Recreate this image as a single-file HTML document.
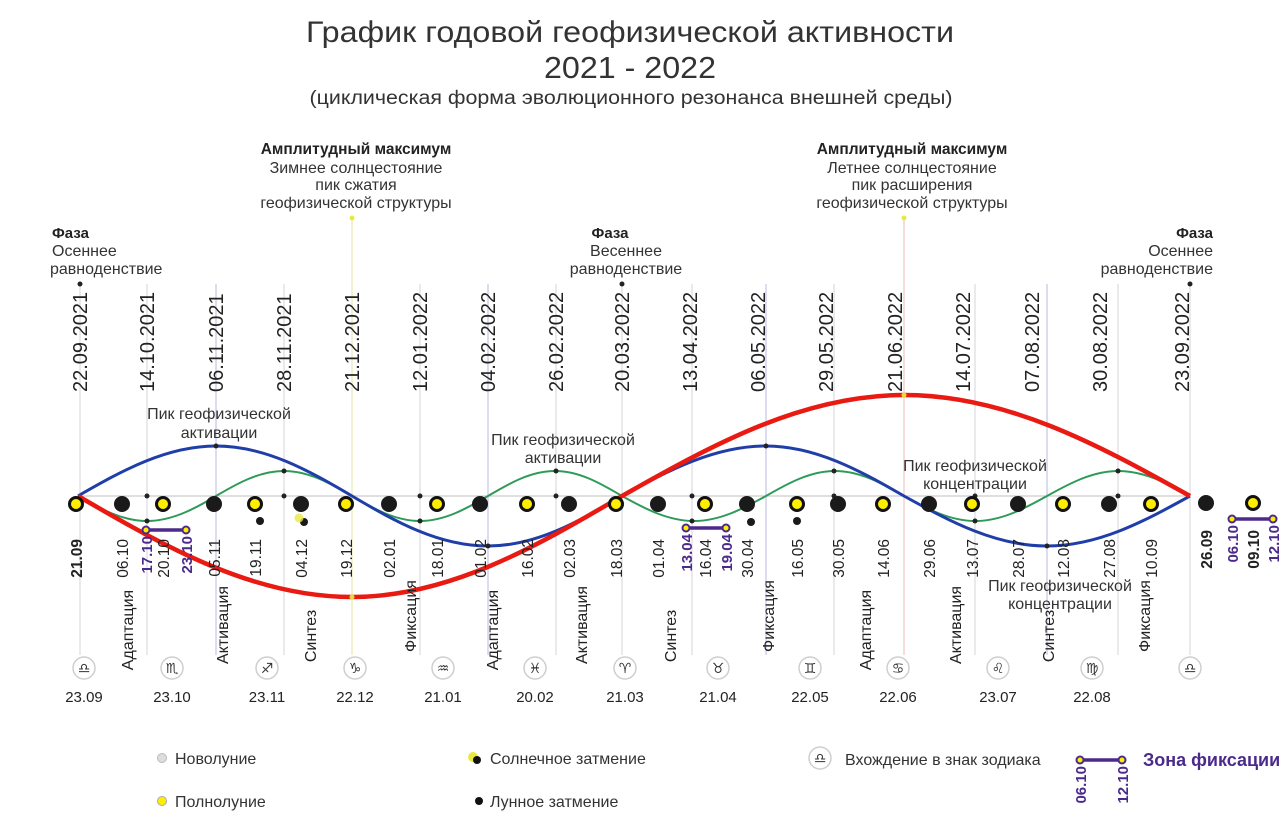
<!DOCTYPE html>
<html><head><meta charset="utf-8"><style>
body{margin:0;background:#fff;}
svg{display:block;font-family:"Liberation Sans",Arial,sans-serif;}
.t{fill:#333;}
.d{font-size:20px;fill:#222;}
.b{font-size:15.5px;fill:#222;}
.ph{font-size:16px;fill:#222;}
.z{font-size:15px;fill:#222;}
.pu{font-size:15px;fill:#4b2a8c;font-weight:bold;}
.an{font-size:16px;fill:#333;}
</style></head><body>
<svg width="1280" height="829" viewBox="0 0 1280 829" xmlns="http://www.w3.org/2000/svg">
<text x="630" y="42" text-anchor="middle" font-size="30" class="t" textLength="648" lengthAdjust="spacingAndGlyphs">График годовой геофизической активности</text>
<text x="630" y="78" text-anchor="middle" font-size="31" class="t" textLength="172" lengthAdjust="spacingAndGlyphs">2021 - 2022</text>
<text x="631" y="104" text-anchor="middle" font-size="19" class="t" textLength="643" lengthAdjust="spacingAndGlyphs">(циклическая форма эволюционного резонанса внешней среды)</text>

<g stroke="#d4d4dc" stroke-width="1">
<line x1="80" y1="284" x2="80" y2="655"/><line x1="147" y1="284" x2="147" y2="655"/>
<line x1="216" y1="284" x2="216" y2="655" stroke="#b8b8e0"/><line x1="284" y1="284" x2="284" y2="655"/>
<line x1="352" y1="218" x2="352" y2="655" stroke="#e6e6a0"/><line x1="420" y1="284" x2="420" y2="655"/>
<line x1="488" y1="284" x2="488" y2="655" stroke="#b8b8e0"/><line x1="556" y1="284" x2="556" y2="655"/>
<line x1="622" y1="284" x2="622" y2="655"/><line x1="692" y1="284" x2="692" y2="655"/>
<line x1="766" y1="284" x2="766" y2="655" stroke="#b8b8e0"/><line x1="834" y1="284" x2="834" y2="655"/>
<line x1="904" y1="218" x2="904" y2="655" stroke="#f0b8b8"/><line x1="975" y1="284" x2="975" y2="655"/>
<line x1="1047" y1="284" x2="1047" y2="655" stroke="#b8b8e0"/><line x1="1118" y1="284" x2="1118" y2="655"/>
<line x1="1190" y1="284" x2="1190" y2="655"/>
</g>
<line x1="78" y1="496" x2="1190" y2="496" stroke="#ccc" stroke-width="1.2"/>

<g class="d">
<text transform="translate(87,392) rotate(-90)">22.09.2021</text>
<text transform="translate(154,392) rotate(-90)">14.10.2021</text>
<text transform="translate(223,392) rotate(-90)">06.11.2021</text>
<text transform="translate(291,392) rotate(-90)">28.11.2021</text>
<text transform="translate(359,392) rotate(-90)">21.12.2021</text>
<text transform="translate(427,392) rotate(-90)">12.01.2022</text>
<text transform="translate(495,392) rotate(-90)">04.02.2022</text>
<text transform="translate(563,392) rotate(-90)">26.02.2022</text>
<text transform="translate(629,392) rotate(-90)">20.03.2022</text>
<text transform="translate(697,392) rotate(-90)">13.04.2022</text>
<text transform="translate(765,392) rotate(-90)">06.05.2022</text>
<text transform="translate(833,392) rotate(-90)">29.05.2022</text>
<text transform="translate(902,392) rotate(-90)">21.06.2022</text>
<text transform="translate(970,392) rotate(-90)">14.07.2022</text>
<text transform="translate(1039,392) rotate(-90)">07.08.2022</text>
<text transform="translate(1107,392) rotate(-90)">30.08.2022</text>
<text transform="translate(1189,392) rotate(-90)">23.09.2022</text>
</g>

<g class="an" text-anchor="middle">
<text x="356" y="154" font-weight="bold" fill="#222" font-size="15.5">Амплитудный максимум</text>
<text x="356" y="173">Зимнее солнцестояние</text>
<text x="356" y="190">пик сжатия</text>
<text x="356" y="208">геофизической структуры</text>
<text x="912" y="154" font-weight="bold" fill="#222" font-size="15.5">Амплитудный максимум</text>
<text x="912" y="173">Летнее солнцестояние</text>
<text x="912" y="190">пик расширения</text>
<text x="912" y="208">геофизической структуры</text>
<text x="219" y="419">Пик геофизической</text><text x="219" y="438">активации</text>
<text x="563" y="445">Пик геофизической</text><text x="563" y="463">активации</text>
<text x="975" y="471">Пик геофизической</text><text x="975" y="489">концентрации</text>
<text x="1060" y="591">Пик геофизической</text><text x="1060" y="609">концентрации</text>
<text x="610" y="238" font-weight="bold" fill="#222" font-size="15">Фаза</text>
<text x="626" y="256">Весеннее</text><text x="626" y="274">равноденствие</text>
</g>
<g class="an">
<text x="52" y="238" font-weight="bold" fill="#222" font-size="15">Фаза</text>
<text x="52" y="256">Осеннее</text><text x="50" y="274">равноденствие</text>
<text x="1213" y="238" font-weight="bold" fill="#222" font-size="15" text-anchor="end">Фаза</text>
<text x="1213" y="256" text-anchor="end">Осеннее</text><text x="1213" y="274" text-anchor="end">равноденствие</text>
</g>
<g fill="#222"><circle cx="80" cy="284" r="2.5"/><circle cx="622" cy="284" r="2.5"/><circle cx="1190" cy="284" r="2.5"/></g>
<g fill="#e8e840"><circle cx="352" cy="218" r="2.5"/><circle cx="904" cy="218" r="2.5"/></g>

<path d="M78,496 C100.5,509 122.4,521 147,521 C171.6,521 194.5,509 216,496 C238,483 259.7,471 284,471 C308.3,471 329.8,483 352,496 C374,509 395.7,521 420,521 C444.3,521 465.8,509 488,496 C510,483 531,471 555,471 C579,471 600,483 622,496 C645.5,509 668.3,521 694,521 C719.7,521 742.5,509 766,496 C788.5,483 810.4,471 835,471 C859.6,471 881.5,483 904,496 C927.3,509 950,521 975.5,521 C1001,521 1023.7,509 1047,496 C1070.3,483 1093,471 1118.5,471 C1144,471 1166.7,483 1190,496" fill="none" stroke="#2e9a58" stroke-width="2"/>
<path d="M78,496 C123,470 167,446 216,446 C265,446 308,470 352,496 C396,522 439,546 488,546 C536,546 578,522 622,496 C669,470 715,446 766,446 C815,446 859,470 904,496 C951,522 996,546 1047,546 C1098,546 1143,522 1190,496" fill="none" stroke="#1f3ea8" stroke-width="3"/>
<path d="M78,496 C167,548 254,597 352,597 C448,597 534,548 622,496 C714,444 803,395 904,395 C1006,395 1097,444 1190,496" fill="none" stroke="#e81a12" stroke-width="4.5"/>
<g fill="#222">
<circle cx="147" cy="496" r="2.5"/><circle cx="147" cy="521" r="2.5"/><circle cx="216" cy="446" r="2.5"/>
<circle cx="284" cy="471" r="2.5"/><circle cx="284" cy="496" r="2.5"/><circle cx="420" cy="496" r="2.5"/><circle cx="420" cy="521" r="2.5"/>
<circle cx="488" cy="546" r="2.5"/><circle cx="556" cy="471" r="2.5"/><circle cx="556" cy="496" r="2.5"/>
<circle cx="692" cy="496" r="2.5"/><circle cx="692" cy="521" r="2.5"/><circle cx="766" cy="446" r="2.5"/>
<circle cx="834" cy="471" r="2.5"/><circle cx="834" cy="496" r="2.5"/><circle cx="975" cy="496" r="2.5"/><circle cx="975" cy="521" r="2.5"/>
<circle cx="1047" cy="546" r="2.5"/><circle cx="1118" cy="471" r="2.5"/><circle cx="1118" cy="496" r="2.5"/>
</g>
<g fill="#e8d83a"><circle cx="904" cy="395" r="2.5"/><circle cx="352" cy="597" r="2.5"/></g>

<g fill="#1a1a1a">
<circle cx="122" cy="504" r="8"/><circle cx="214" cy="504" r="8"/><circle cx="301" cy="504" r="8"/><circle cx="389" cy="504" r="8"/>
<circle cx="480" cy="504" r="8"/><circle cx="569" cy="504" r="8"/><circle cx="658" cy="504" r="8"/><circle cx="747" cy="504" r="8"/>
<circle cx="838" cy="504" r="8"/><circle cx="929" cy="504" r="8"/><circle cx="1018" cy="504" r="8"/><circle cx="1109" cy="504" r="8"/>
<circle cx="1206" cy="503" r="8"/>
<circle cx="260" cy="521" r="4"/><circle cx="304" cy="522" r="4"/><circle cx="751" cy="522" r="4"/><circle cx="797" cy="521" r="4"/>
</g>
<circle cx="299" cy="518" r="4.5" fill="#e8e840" opacity="0.8"/>
<g fill="#ffee00" stroke="#111" stroke-width="3">
<circle cx="76" cy="504" r="6.5"/><circle cx="163" cy="504" r="6.5"/><circle cx="255" cy="504" r="6.5"/><circle cx="346" cy="504" r="6.5"/>
<circle cx="437" cy="504" r="6.5"/><circle cx="527" cy="504" r="6.5"/><circle cx="616" cy="504" r="6.5"/><circle cx="705" cy="504" r="6.5"/>
<circle cx="797" cy="504" r="6.5"/><circle cx="883" cy="504" r="6.5"/><circle cx="972" cy="504" r="6.5"/><circle cx="1063" cy="504" r="6.5"/>
<circle cx="1151" cy="504" r="6.5"/><circle cx="1253" cy="503" r="6.5"/>
</g>

<g stroke="#4b2a8c" stroke-width="3.5"><line x1="146" y1="530" x2="186" y2="530"/><line x1="686" y1="528" x2="726" y2="528"/><line x1="1232" y1="519" x2="1273" y2="519"/><line x1="1080" y1="760" x2="1122" y2="760"/></g>
<g fill="#ffee00" stroke="#4b2a8c" stroke-width="2">
<circle cx="146" cy="530" r="3.5"/><circle cx="186" cy="530" r="3.5"/><circle cx="686" cy="528" r="3.5"/><circle cx="726" cy="528" r="3.5"/>
<circle cx="1232" cy="519" r="3.5"/><circle cx="1273" cy="519" r="3.5"/><circle cx="1080" cy="760" r="3.5"/><circle cx="1122" cy="760" r="3.5"/>
</g>

<g class="b" text-anchor="end">
<text transform="translate(82,539) rotate(-90)" font-weight="bold">21.09</text>
<text transform="translate(128,539) rotate(-90)">06.10</text>
<text transform="translate(169,539) rotate(-90)">20.10</text>
<text transform="translate(220,539) rotate(-90)">05.11</text>
<text transform="translate(261,539) rotate(-90)">19.11</text>
<text transform="translate(307,539) rotate(-90)">04.12</text>
<text transform="translate(352,539) rotate(-90)">19.12</text>
<text transform="translate(395,539) rotate(-90)">02.01</text>
<text transform="translate(443,539) rotate(-90)">18.01</text>
<text transform="translate(486,539) rotate(-90)">01.02</text>
<text transform="translate(533,539) rotate(-90)">16.02</text>
<text transform="translate(575,539) rotate(-90)">02.03</text>
<text transform="translate(622,539) rotate(-90)">18.03</text>
<text transform="translate(664,539) rotate(-90)">01.04</text>
<text transform="translate(711,539) rotate(-90)">16.04</text>
<text transform="translate(753,539) rotate(-90)">30.04</text>
<text transform="translate(803,539) rotate(-90)">16.05</text>
<text transform="translate(844,539) rotate(-90)">30.05</text>
<text transform="translate(889,539) rotate(-90)">14.06</text>
<text transform="translate(935,539) rotate(-90)">29.06</text>
<text transform="translate(978,539) rotate(-90)">13.07</text>
<text transform="translate(1024,539) rotate(-90)">28.07</text>
<text transform="translate(1069,539) rotate(-90)">12.08</text>
<text transform="translate(1115,539) rotate(-90)">27.08</text>
<text transform="translate(1157,539) rotate(-90)">10.09</text>
<text transform="translate(1212,530) rotate(-90)" font-weight="bold">26.09</text>
<text transform="translate(1259,530) rotate(-90)" font-weight="bold">09.10</text>
</g>
<g class="pu" text-anchor="end">
<text transform="translate(152,536) rotate(-90)">17.10</text>
<text transform="translate(192,536) rotate(-90)">23.10</text>
<text transform="translate(692,534) rotate(-90)">13.04</text>
<text transform="translate(732,534) rotate(-90)">19.04</text>
<text transform="translate(1238,525) rotate(-90)">06.10</text>
<text transform="translate(1279,525) rotate(-90)">12.10</text>
<text transform="translate(1086,766) rotate(-90)">06.10</text>
<text transform="translate(1128,766) rotate(-90)">12.10</text>
</g>

<g class="ph" text-anchor="middle">
<text transform="translate(133,630) rotate(-90)">Адаптация</text>
<text transform="translate(228,625) rotate(-90)">Активация</text>
<text transform="translate(316,636) rotate(-90)">Синтез</text>
<text transform="translate(416,616) rotate(-90)">Фиксация</text>
<text transform="translate(498,630) rotate(-90)">Адаптация</text>
<text transform="translate(587,625) rotate(-90)">Активация</text>
<text transform="translate(676,636) rotate(-90)">Синтез</text>
<text transform="translate(774,616) rotate(-90)">Фиксация</text>
<text transform="translate(871,630) rotate(-90)">Адаптация</text>
<text transform="translate(961,625) rotate(-90)">Активация</text>
<text transform="translate(1054,636) rotate(-90)">Синтез</text>
<text transform="translate(1150,616) rotate(-90)">Фиксация</text>
</g>

<g fill="#fff" stroke="#cfcfcf" stroke-width="1.5">
<circle cx="84" cy="668" r="11"/><circle cx="172" cy="668" r="11"/><circle cx="267" cy="668" r="11"/><circle cx="355" cy="668" r="11"/>
<circle cx="443" cy="668" r="11"/><circle cx="535" cy="668" r="11"/><circle cx="625" cy="668" r="11"/><circle cx="718" cy="668" r="11"/>
<circle cx="810" cy="668" r="11"/><circle cx="898" cy="668" r="11"/><circle cx="998" cy="668" r="11"/><circle cx="1092" cy="668" r="11"/>
<circle cx="1190" cy="668" r="11"/><circle cx="820" cy="758" r="11"/>
</g>
<g font-family="DejaVu Sans,sans-serif" font-size="14" fill="#333" text-anchor="middle">
<text x="84" y="673">♎</text><text x="172" y="673">♏</text><text x="267" y="673">♐</text><text x="355" y="673">♑</text>
<text x="443" y="673">♒</text><text x="535" y="673">♓</text><text x="625" y="673">♈</text><text x="718" y="673">♉</text>
<text x="810" y="673">♊</text><text x="898" y="673">♋</text><text x="998" y="673">♌</text><text x="1092" y="673">♍</text>
<text x="1190" y="673">♎</text><text x="820" y="763">♎</text>
</g>
<g class="z" text-anchor="middle">
<text x="84" y="702">23.09</text><text x="172" y="702">23.10</text><text x="267" y="702">23.11</text><text x="355" y="702">22.12</text>
<text x="443" y="702">21.01</text><text x="535" y="702">20.02</text><text x="625" y="702">21.03</text><text x="718" y="702">21.04</text>
<text x="810" y="702">22.05</text><text x="898" y="702">22.06</text><text x="998" y="702">23.07</text><text x="1092" y="702">22.08</text>
</g>

<circle cx="162" cy="758" r="4.5" fill="#ddd" stroke="#bbb"/>
<circle cx="162" cy="801" r="4.5" fill="#ffee00" stroke="#aaa"/>
<circle cx="473" cy="757" r="5" fill="#e8e840"/><circle cx="477" cy="760" r="4" fill="#111"/>
<circle cx="479" cy="801" r="4" fill="#111"/>
<g font-size="16" fill="#333">
<text x="175" y="764">Новолуние</text>
<text x="175" y="807">Полнолуние</text>
<text x="490" y="764">Солнечное затмение</text>
<text x="490" y="807">Лунное затмение</text>
<text x="845" y="765">Вхождение в знак зодиака</text>
</g>
<text x="1143" y="766" font-size="18" font-weight="bold" fill="#4b2a8c">Зона фиксации</text>
</svg>
</body></html>
